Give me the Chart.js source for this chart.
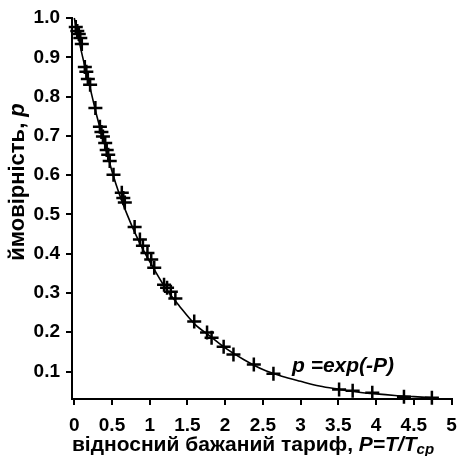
<!DOCTYPE html>
<html>
<head>
<meta charset="utf-8">
<script src="https://cdn.jsdelivr.net/npm/chart.js@4"></script>
<style>
  html, body { margin: 0; padding: 0; background: #fff; }
  #wrap { width: 461px; height: 456px; }
</style>
</head>
<body>
<div id="wrap"><canvas id="chart"></canvas></div>
<script>
// measured points (+ markers)
const markX = [0.02, 0.04, 0.06, 0.08, 0.10, 0.14, 0.16, 0.18, 0.21, 0.28,
  0.34, 0.36, 0.38, 0.41, 0.43, 0.45, 0.47, 0.52, 0.63, 0.65,
  0.67, 0.80, 0.87, 0.91, 0.97, 1.02, 1.06, 1.19, 1.23, 1.28,
  1.34, 1.59, 1.76, 1.82, 1.98, 2.11, 2.38, 2.64, 3.51, 3.69,
  3.95, 4.37, 4.74];
const markY = [0.977, 0.967, 0.959, 0.949, 0.934, 0.875, 0.863, 0.845, 0.830, 0.771,
  0.723, 0.710, 0.698, 0.682, 0.664, 0.652, 0.636, 0.601, 0.555, 0.542,
  0.530, 0.468, 0.436, 0.420, 0.402, 0.385, 0.364, 0.321, 0.313, 0.303,
  0.286, 0.227, 0.199, 0.186, 0.163, 0.143, 0.118, 0.094, 0.054, 0.051,
  0.046, 0.036, 0.033];

// fitted curve p = exp(-P)
const curveX = [0, 0.1, 0.2, 0.3, 0.4, 0.5, 0.6, 0.7, 0.8, 0.9, 1.0, 1.2, 1.4, 1.6,
  1.8, 2.0, 2.25, 2.5, 2.75, 3.0, 3.25, 3.5, 3.75, 4.0, 4.25, 4.5, 4.83];
const curveY = [1.0, 0.91, 0.83, 0.75, 0.68, 0.61, 0.55, 0.50, 0.455, 0.415, 0.38, 0.315, 0.265, 0.22,
  0.19, 0.16, 0.13, 0.105, 0.088, 0.075, 0.063, 0.055, 0.048, 0.043, 0.039, 0.036, 0.032];

const xTicks = [0, 0.5, 1, 1.5, 2, 2.5, 3, 3.5, 4, 4.5, 5];
const yTicks = [0.1, 0.2, 0.3, 0.4, 0.5, 0.6, 0.7, 0.8, 0.9, 1.0];

const FONT = "'Liberation Sans', Arial, sans-serif";

// draws a run of text pieces with different fonts
function drawRuns(c, runs, x, y) {
  let cx = x;
  runs.forEach(r => {
    c.font = r.font;
    c.fillText(r.text, cx, y + (r.dy || 0));
    cx += c.measureText(r.text).width;
  });
}
function runsWidth(c, runs) {
  let w = 0;
  runs.forEach(r => { c.font = r.font; w += c.measureText(r.text).width; });
  return w;
}

const titles = {
  id: 'titles',
  afterDraw(chart) {
    const c = chart.ctx;
    c.save();
    c.fillStyle = '#000';
    c.textBaseline = 'alphabetic';
    c.textAlign = 'left';

    // x axis title
    const xr = [
      { text: 'відносний бажаний тариф, ', font: 'bold 21px ' + FONT },
      { text: 'P=T/T', font: 'italic bold 21px ' + FONT },
      { text: 'cp', font: 'italic bold 15px ' + FONT, dy: 3 }
    ];
    const xw = runsWidth(c, xr);
    drawRuns(c, xr, 253 - xw / 2, 451);

    // y axis title
    const yr = [
      { text: 'ймовірність, ', font: 'bold 22px ' + FONT },
      { text: 'p', font: 'italic bold 22px ' + FONT }
    ];
    const yw = runsWidth(c, yr);
    c.translate(24, 182);
    c.rotate(-Math.PI / 2);
    drawRuns(c, yr, -yw / 2, 0);
    c.restore();

    // formula label
    c.save();
    c.fillStyle = '#000';
    c.font = 'italic bold 21px ' + FONT;
    c.textBaseline = 'middle';
    c.fillText('p =exp(-P)', 292, 366);
    c.restore();
  }
};

const ctx = document.getElementById('chart');
const chart = new Chart(ctx, {
  type: 'scatter',
  data: {
    datasets: [{
      label: 'curve',
      type: 'line',
      data: curveX.map((x, i) => ({ x: x, y: curveY[i] })),
      borderColor: '#000',
      borderWidth: 1.6,
      pointRadius: 0,
      tension: 0.4,
      cubicInterpolationMode: 'monotone',
      fill: false,
      clip: false
    }, {
      label: 'data',
      data: markX.map((x, i) => ({ x: x, y: markY[i] })),
      pointStyle: 'cross',
      pointRadius: 7,
      borderWidth: 2.5,
      borderColor: '#000',
      backgroundColor: '#000',
      clip: false
    }]
  },
  options: {
    responsive: true,
    maintainAspectRatio: false,
    animation: false,
    devicePixelRatio: 1,
    layout: { padding: { top: 18, right: 2, left: 0, bottom: 0 } },
    plugins: {
      legend: { display: false },
      tooltip: { enabled: false }
    },
    scales: {
      x: {
        type: 'linear',
        min: -0.03,
        max: 5,
        afterBuildTicks: s => { s.ticks = xTicks.map(v => ({ value: v })); },
        afterFit: s => { s.height = 57; s.paddingLeft = 0; s.paddingRight = 0; },
        border: { color: '#000', width: 2 },
        grid: { drawOnChartArea: false, color: '#000', lineWidth: 2, tickLength: 6 },
        ticks: {
          color: '#000',
          padding: 9,
          maxRotation: 0,
          font: { family: FONT, size: 19, weight: 'bold' },
          callback: v => String(v)
        }
      },
      y: {
        type: 'linear',
        min: 0.03,
        max: 1.0,
        afterBuildTicks: s => { s.ticks = yTicks.map(v => ({ value: v })); },
        afterFit: s => { s.width = 72; s.paddingTop = 0; s.paddingBottom = 0; },
        border: { color: '#000', width: 2 },
        grid: { drawOnChartArea: false, color: '#000', lineWidth: 2, tickLength: 6 },
        ticks: {
          color: '#000',
          padding: 6,
          font: { family: FONT, size: 19, weight: 'bold' },
          callback: v => v.toFixed(1)
        }
      }
    }
  },
  plugins: [titles]
});
</script>
</body>
</html>
